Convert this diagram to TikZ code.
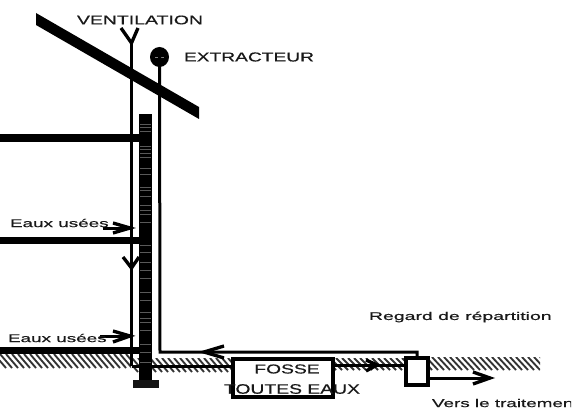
\documentclass[tikz,border=0pt]{standalone}
\usepackage{graphicx}
\usepackage{fontspec}
\setmainfont[FakeBold=0.4]{Liberation Sans}
\newcommand{\stretchlabel}[3]{\resizebox{#1pt}{#2pt}{#3}}
\newcommand{\hatchrow}[4]{%
  \begin{scope}
    \clip (#1,#3) rectangle (#2,#4);
    \foreach \hx in {-6,0,...,546}{\draw[hatchline] (\hx,#3) -- (\hx+12,#4);}
  \end{scope}}
\tikzset{
  lab/.style={inner sep=0pt,outer sep=0pt,text=black!90},
  pipe/.style={draw=black,line width=2.25pt,line join=miter},
  floorslab/.style={draw=none,fill=black},
  hatchline/.style={draw=black!80,line width=1.4pt},
  chevron/.style={draw=black,line width=2.5pt,line join=miter},
  stripe/.style={draw=black!65,line width=0.3pt},
  boxed/.style={draw=black,line width=2.3pt,fill=white,inner sep=0pt,outer sep=0pt}
}
\begin{document}
\begin{tikzpicture}[x=0.75pt,y=-0.75pt]
\useasboundingbox[fill=white] (0,0) rectangle (581,417);
% ground
\hatchrow{0}{131}{354}{368}
\hatchrow{133}{233}{358}{372}
\hatchrow{333}{406}{358}{370}
\hatchrow{428}{540}{357}{370}
% roof
\fill[black] (36,13) -- (199,107) -- (199,119) -- (36,25) -- cycle;
% floors
\fill[floorslab] (0,134) rectangle (140,142);
\fill[floorslab] (0,237) rectangle (140,244);
\fill[floorslab] (0,347) rectangle (140,354);
% stack
\fill[black] (139,114) rectangle (152,381);
\foreach \sy in {124,127,131,146,149,153,157,168,174,187,190,196,205,210,214,222,245,252,262,270,278,292,300,312,318,322,330,344,352,362}
  \draw[stripe] (140,\sy) -- (151,\sy);
\fill[black!92] (133,380) rectangle (159,388);
% ventilation
\coordinate (ventTop) at (131.5,43);
\coordinate (ventFoot) at (131.5,366);
\coordinate (ventL) at (121,28);
\coordinate (ventR) at (138,28);
\draw[pipe] (ventTop) -- (ventFoot);
\draw[chevron] (ventL) -- (ventTop) -- (ventR);
\draw[chevron] (123,257) -- (131.5,268) -- (139,257);
% boxes
\node[boxed,minimum width=100*0.75pt,minimum height=38*0.75pt] (fosse) at (283,378) {};
\node[boxed,minimum width=22*0.75pt,minimum height=27*0.75pt] (regard) at (417,371.5) {};
% extractor
\fill[black] (159.5,57) ellipse (9.5 and 10);
\draw[draw=black!50,line width=0.3pt] (155,57) -- (164,57);
\coordinate (extr) at (159.5,57);
\coordinate (bend) at (160,352);
\draw[pipe] (extr) -- (bend) -- (417,352) -- (regard.north);
% pipes in the ground
\draw[pipe] (ventFoot) -- (fosse.west |- ventFoot);
\coordinate (pipeB) at (333,365);
\draw[pipe] (pipeB) -- (regard.west |- pipeB);
\coordinate (outEnd) at (490,378);
\draw[pipe] (regard.east |- outEnd) -- (outEnd);
% arrows
\draw[chevron] (224,346) -- (204,352) -- (224,358);
\draw[chevron] (366,360) -- (377,365) -- (366,371);
\draw[chevron] (473,372) -- (490,378) -- (473,384);
\coordinate (a1s) at (103,228);
\coordinate (a1e) at (130,228);
\draw[pipe] (a1s) -- (a1e);
\draw[chevron] (113,223) -- (130,228) -- (113,233);
\coordinate (a2s) at (100,336);
\coordinate (a2e) at (130,336);
\draw[pipe] (a2s) -- (a2e);
\draw[chevron] (113,331) -- (130,336) -- (113,342);
% labels
\node[lab,anchor=center] (tVent) at (140,20) {\stretchlabel{94.5}{6.6}{VENTILATION}};
\node[lab,anchor=center] (tExt) at (249,57) {\stretchlabel{97.5}{6.8}{EXTRACTEUR}};
\node[lab,anchor=west] (tE1) at (10,223) {\stretchlabel{74}{6.2}{Eaux usées}};
\node[lab,anchor=west] (tE2) at (8,338) {\stretchlabel{74}{6.2}{Eaux usées}};
\node[lab,anchor=west] (tReg) at (369,317) {\stretchlabel{137}{6.2}{Regard de répartition}};
\node[lab,anchor=center] (tFos) at (287,369) {\stretchlabel{49}{6.8}{FOSSE}};
\node[lab,anchor=center] (tTou) at (292,389) {\stretchlabel{102}{7.2}{TOUTES EAUX}};
\begin{scope}
\clip (425,390) rectangle (571,417);
\node[lab,anchor=west] (tVers) at (432,403) {\stretchlabel{110}{6.2}{Vers le traitement}};
\end{scope}
\end{tikzpicture}
\end{document}
